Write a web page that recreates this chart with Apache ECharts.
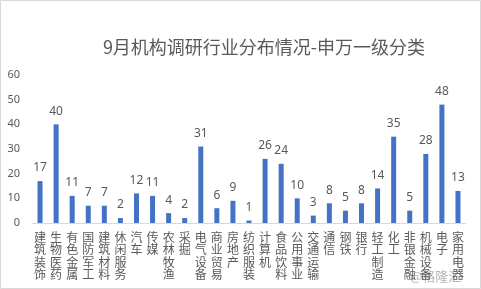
<!DOCTYPE html>
<html><head><meta charset="utf-8">
<script src="https://cdn.jsdelivr.net/npm/echarts@6/dist/echarts.min.js"></script>
<style>html,body{margin:0;padding:0;background:#fff}#c{width:481px;height:289px}</style>
</head><body><div id="c"></div>
<script>
const categories = ['建筑装饰','生物医药','有色金属','国防军工','建筑材料','休闲服务','汽车','传媒','农林牧渔','采掘','电气设备','商业贸易','房地产','纺织服装','计算机','食品饮料','公用事业','交通运输','通信','钢铁','银行','轻工制造','化工','非银金融','机械设备','电子','家用电器'];
const values = [17,40,11,7,7,2,12,11,4,2,31,6,9,1,26,24,10,3,8,5,8,14,35,5,28,48,13];
const yTicks = [0,10,20,30,40,50,60];
const titleText = '9月机构调研行业分布情况-申万一级分类';

const chart = echarts.init(document.getElementById('c'));
chart.setOption({
  animation:false,
  title:{text:titleText,left:259,top:33,textAlign:'center',textStyle:{fontFamily:'Noto Sans CJK SC',fontSize:18,fontWeight:'normal',color:'#595959'}},
  grid:{left:32,right:15,top:75,bottom:66},
  xAxis:{type:'category',data:categories,
    axisLine:{lineStyle:{color:'#d9d9d9'}},axisTick:{show:false},
    axisLabel:{interval:0,hideOverlap:false,color:'#595959',margin:8,align:'center',verticalAlign:'top',
      formatter:v=>v.split('').map(ch=>'{c|'+ch+'}').join('\n'),
      rich:{c:{fontSize:12,lineHeight:12.5,fontFamily:'Noto Sans CJK SC',color:'#595959',width:14,align:'center'}}}},
  yAxis:{type:'value',min:yTicks[0],max:yTicks[yTicks.length-1],interval:10,
    splitLine:{show:false},axisLine:{show:false},axisTick:{show:false},
    axisLabel:{color:'#595959',fontSize:11,fontFamily:'Noto Sans',margin:12,align:'right'}},
  series:[{type:'bar',data:values,barWidth:5,itemStyle:{color:'#4472C4'},
    label:{show:true,position:'top',distance:7,color:'#595959',fontSize:12,fontFamily:'Noto Sans'}}],
  graphic:[
    {type:'rect',shape:{x:0.5,y:0.5,width:480,height:288},style:{fill:'none',stroke:'#d9d9d9',lineWidth:1}},
    {type:'text',left:410,top:270,style:{text:'@格隆汇',fill:'rgba(120,120,120,0.55)',fontSize:13,fontFamily:'Noto Sans CJK SC'}}
  ]
});
</script></body></html>
